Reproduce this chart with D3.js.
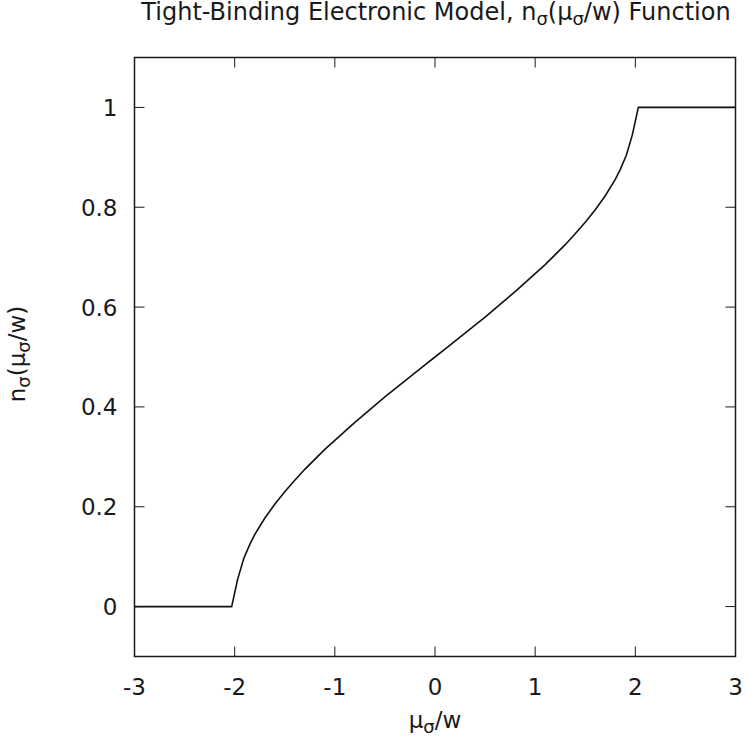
<!DOCTYPE html>
<html>
<head>
<meta charset="utf-8">
<script src="https://cdn.jsdelivr.net/npm/d3@7"></script>
<style>
  body { margin: 0; background: #fff; }
  svg { display: block; }
  text { font-family: "DejaVu Sans", sans-serif; fill: #1a1a1a; }
</style>
</head>
<body>
<svg id="chart" width="748" height="751"></svg>
<script>
// values (mu/w , n)
const muValues = [-3, -2.03, -1.97, -1.91, -1.85, -1.8, -1.7, -1.6, -1.5, -1.4, -1.3, -1.2, -1.1, -1.0,
  -0.9, -0.8, -0.7, -0.6, -0.5, -0.4, -0.3, -0.2, -0.1, 0,
  0.1, 0.2, 0.3, 0.4, 0.5, 0.6, 0.7, 0.8, 0.9, 1.0, 1.1, 1.2, 1.3, 1.4, 1.5, 1.6, 1.7, 1.8,
  1.85, 1.91, 1.97, 2.03, 3];
const nValues = [0, 0, 0.055, 0.096, 0.124, 0.144, 0.177, 0.205, 0.230, 0.253, 0.275, 0.295, 0.315, 0.333,
  0.351, 0.369, 0.386, 0.403, 0.420, 0.436, 0.452, 0.468, 0.484, 0.5,
  0.516, 0.532, 0.548, 0.564, 0.580, 0.597, 0.614, 0.631, 0.649, 0.667, 0.685, 0.705, 0.725, 0.747, 0.770, 0.795, 0.823, 0.856,
  0.876, 0.904, 0.945, 1, 1];
const xTicks = [-3, -2, -1, 0, 1, 2, 3];
const yTicks = [0, 0.2, 0.4, 0.6, 0.8, 1];

const svg = d3.select('#chart');
const pLeft = 134.5, pRight = 735.5, pTop = 57.5, pBottom = 656.5;
const tickLen = 10;
const fs = 23, subFs = 18, subDy = 5;

const x = d3.scaleLinear().domain([-3, 3]).range([pLeft, pRight]);
const y = d3.scaleLinear().domain([-0.1, 1.1]).range([pBottom, pTop]);

const data = muValues.map((m, i) => ({ mu: m, n: nValues[i] }));

// ticks, inward on all four sides
const tk = svg.append('g').attr('stroke', '#1a1a1a').attr('stroke-width', 1);
xTicks.forEach(t => {
  tk.append('line').attr('x1', x(t)).attr('x2', x(t)).attr('y1', pBottom).attr('y2', pBottom - tickLen);
  tk.append('line').attr('x1', x(t)).attr('x2', x(t)).attr('y1', pTop).attr('y2', pTop + tickLen);
});
yTicks.forEach(t => {
  tk.append('line').attr('x1', pLeft).attr('x2', pLeft + tickLen).attr('y1', y(t)).attr('y2', y(t));
  tk.append('line').attr('x1', pRight).attr('x2', pRight - tickLen).attr('y1', y(t)).attr('y2', y(t));
});

// frame
svg.append('rect')
  .attr('x', pLeft).attr('y', pTop)
  .attr('width', pRight - pLeft).attr('height', pBottom - pTop)
  .attr('fill', 'none').attr('stroke', '#1a1a1a').attr('stroke-width', 1.5);

// tick labels
svg.append('g').selectAll('text').data(xTicks).join('text')
  .attr('x', d => x(d)).attr('y', pBottom + 38)
  .attr('text-anchor', 'middle').attr('font-size', fs)
  .text(d => d);
svg.append('g').selectAll('text').data(yTicks).join('text')
  .attr('x', pLeft - 17).attr('y', d => y(d) + 8.5)
  .attr('text-anchor', 'end').attr('font-size', fs)
  .text(d => d);

// curve
svg.append('path').datum(data)
  .attr('fill', 'none').attr('stroke', '#111').attr('stroke-width', 1.6)
  .attr('d', d3.line().x(d => x(d.mu)).y(d => y(d.n)));

// text with sigma subscripts
function subText(sel, parts) {
  parts.forEach(p => {
    if (p === 'σ') {
      sel.append('tspan').attr('font-size', subFs).attr('dy', subDy).text('σ');
    } else {
      sel.append('tspan').attr('dy', sel.node().childNodes.length ? -subDy : 0).text(p);
    }
  });
}

const title = svg.append('text').attr('x', 436).attr('y', 25)
  .attr('text-anchor', 'middle').attr('font-size', 24);
subText(title, ['Tight-Binding Electronic Model, n', 'σ', '(μ', 'σ', '/w) Function']);

const xl = svg.append('text').attr('x', 435).attr('y', 733)
  .attr('text-anchor', 'middle').attr('font-size', fs);
subText(xl, ['μ', 'σ', '/w']);

const yl = svg.append('text').attr('transform', 'translate(30,354) rotate(-90)')
  .attr('text-anchor', 'middle').attr('font-size', fs);
subText(yl, ['n', 'σ', '(μ', 'σ', '/w)']);
</script>
</body>
</html>
